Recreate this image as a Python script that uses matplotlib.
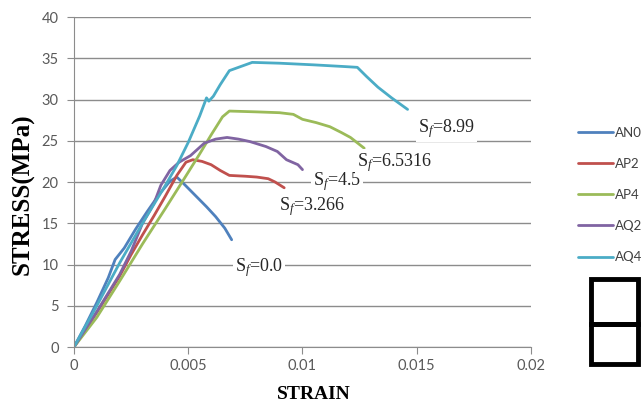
import matplotlib
matplotlib.use("Agg")
import matplotlib.pyplot as plt
from matplotlib.patches import Rectangle

plt.rcParams['mathtext.fontset'] = 'custom'
plt.rcParams['mathtext.rm'] = 'Liberation Serif'
plt.rcParams['mathtext.it'] = 'Liberation Serif:italic'

# stress-strain curves
an0_x = [0, 0.0005, 0.001, 0.0015, 0.0018, 0.0022, 0.0027, 0.0032, 0.0037, 0.0042, 0.0045,
         0.0048, 0.0053, 0.0058, 0.0062, 0.0066, 0.0069]
an0_y = [0, 2.6, 5.4, 8.4, 10.6, 12.0, 14.3, 16.4, 18.4, 20.1, 20.6,
         19.8, 18.4, 17.0, 15.8, 14.4, 13.0]

ap2_x = [0, 0.001, 0.002, 0.0025, 0.003, 0.0035, 0.004, 0.0045, 0.0049, 0.0052, 0.0056,
         0.006, 0.0064, 0.0068, 0.0075, 0.008, 0.0085, 0.0088, 0.0092]
ap2_y = [0, 4.2, 8.6, 11.2, 13.6, 15.9, 18.3, 20.8, 22.4, 22.7, 22.5,
         22.1, 21.4, 20.8, 20.7, 20.6, 20.4, 20.0, 19.3]

ap4_x = [0, 0.001, 0.002, 0.003, 0.004, 0.0048, 0.0055, 0.006, 0.0065, 0.0068, 0.008,
         0.009, 0.0096, 0.01, 0.0106, 0.0112, 0.0117, 0.0121, 0.0127]
ap4_y = [0, 3.6, 8.0, 12.5, 16.8, 20.3, 23.4, 25.7, 27.9, 28.6, 28.5,
         28.4, 28.2, 27.6, 27.2, 26.7, 26.0, 25.4, 24.1]

aq2_x = [0, 0.001, 0.002, 0.0025, 0.003, 0.0035, 0.0038, 0.0042, 0.0046, 0.0051, 0.0057,
         0.0062, 0.0067, 0.0072, 0.0077, 0.0084, 0.0089, 0.0093, 0.0098, 0.01]
aq2_y = [0, 4.3, 8.8, 11.6, 15.0, 17.4, 19.6, 21.4, 22.4, 23.2, 24.7,
         25.2, 25.4, 25.2, 24.9, 24.3, 23.7, 22.7, 22.1, 21.5]

aq4_x = [0, 0.001, 0.002, 0.003, 0.004, 0.0045, 0.005, 0.0055, 0.0058, 0.0059, 0.0061,
         0.0064, 0.0068, 0.0072, 0.0078, 0.009, 0.0105, 0.0118, 0.0124, 0.0128, 0.0133,
         0.0139, 0.0146]
aq4_y = [0, 5.0, 10.2, 15.0, 19.6, 22.0, 24.8, 28.0, 30.2, 29.8, 30.4,
         31.8, 33.5, 33.9, 34.5, 34.4, 34.2, 34.0, 33.9, 32.8, 31.5,
         30.2, 28.8]

series_names = ['AN0', 'AP2', 'AP4', 'AQ2', 'AQ4']
colors = ['#4F81BD', '#C0504D', '#9BBB59', '#8064A2', '#4BACC6']

# S_f labels and where they sit
sf_labels = ['0.0', '3.266', '4.5', '6.5316', '8.99']
sf_x = [0.00705, 0.00897, 0.01045, 0.01239, 0.01505]
sf_y = [9.6, 17.0, 20.0, 22.4, 26.5]

fig = plt.figure(figsize=(6.44, 4.05), dpi=100)
ax = fig.add_axes([0.1149, 0.1432, 0.7096, 0.8148])

xs = [an0_x, ap2_x, ap4_x, aq2_x, aq4_x]
ys = [an0_y, ap2_y, ap4_y, aq2_y, aq4_y]
for x, y, c, name in zip(xs, ys, colors, series_names):
    ax.plot(x, y, color=c, lw=2, label=name, solid_capstyle='round')

ax.set_xlim(0, 0.02)
ax.set_ylim(0, 40)
ax.set_xticks([0, 0.005, 0.01, 0.015, 0.02])
ax.set_xticklabels(['0', '0.005', '0.01', '0.015', '0.02'])
ax.set_yticks(range(0, 45, 5))

ax.grid(axis='y', color='#8c8c8c', lw=1)
ax.set_axisbelow(True)
for s in ['top', 'right']:
    ax.spines[s].set_visible(False)
for s in ['left', 'bottom']:
    ax.spines[s].set_color('#8c8c8c')
ax.tick_params(colors='#8c8c8c', labelcolor='#595959', length=5, labelsize=10.5)
ax.tick_params(axis='y', pad=6)
for lab in ax.get_xticklabels() + ax.get_yticklabels():
    lab.set_family('Lato')

ax.set_xlabel('STRAIN', family='Liberation Serif', weight='bold', fontsize=14)
ax.set_ylabel('STRESS(MPa)', family='Liberation Serif', weight='bold', fontsize=18)
ax.xaxis.set_label_coords(0.524, -0.118)
ax.yaxis.set_label_coords(-0.087, 0.464)

for lab, x, y in zip(sf_labels, sf_x, sf_y):
    ax.text(x, y, r'S$_{f}$=' + lab, family='Liberation Serif', fontsize=13,
            ha='left', va='center', color='#262626',
            bbox=dict(facecolor='white', edgecolor='none', pad=1.5))

leg = ax.legend(loc='upper left', bbox_to_anchor=(571 / 644, 1 - 120 / 405),
                bbox_transform=fig.transFigure, frameon=False, borderpad=0,
                handlelength=2.7, handletextpad=0.15, labelspacing=1.45,
                prop={'family': 'Lato', 'size': 9.5})
for t in leg.get_texts():
    t.set_color('#404040')

# the two boxes below the legend
fig.add_artist(Rectangle((590.7 / 644, 1 - 324 / 405), 47 / 644, 44.7 / 405,
                         transform=fig.transFigure, fill=False, lw=3.5, ec='black'))
fig.add_artist(Rectangle((590.7 / 644, 1 - 364 / 405), 47 / 644, 40 / 405,
                         transform=fig.transFigure, fill=False, lw=3.5, ec='black'))

fig.savefig('out.png', dpi=100)
